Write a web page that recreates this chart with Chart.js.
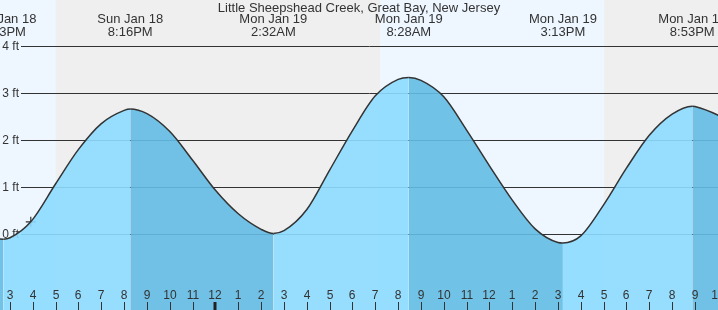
<!DOCTYPE html>
<html>
<head>
<meta charset="utf-8">
<script src="https://cdn.jsdelivr.net/npm/chart.js@4/dist/chart.umd.min.js"></script>
<style>
html,body{margin:0;padding:0;background:#efefef;}
canvas{display:block;}
</style>
</head>
<body>
<canvas id="c" width="718" height="310"></canvas>
<script>
// ---- data (hours since Jan 18 00:00, feet) ----
const chartTitle = 'Little Sheepshead Creek, Great Bay, New Jersey';
const tideHours = [14.0, 14.717, 15, 15.91, 17, 18, 19, 20, 20.267, 21, 22, 23, 24, 25, 26, 26.533, 27, 28, 29, 30, 31, 32, 32.467, 33, 34, 35, 36, 37, 38, 39, 39.217, 40, 41, 42, 43, 44, 44.883, 45, 46, 46.5];
const tideFeet  = [-0.08, -0.11, -0.08, 0.26, 1.07, 1.80, 2.35, 2.63, 2.66, 2.56, 2.18, 1.57, 0.93, 0.43, 0.1, 0.01, 0.07, 0.52, 1.36, 2.2, 2.94, 3.29, 3.33, 3.27, 2.92, 2.21, 1.45, 0.72, 0.11, -0.18, -0.19, -0.04, 0.62, 1.4, 2.1, 2.55, 2.72, 2.715, 2.53, 2.38];
const eventHours = [14.717, 20.267, 26.533, 32.467, 39.217, 44.883];
const eventDays  = ['Sun Jan 18', 'Sun Jan 18', 'Mon Jan 19', 'Mon Jan 19', 'Mon Jan 19', 'Mon Jan 19'];
const eventTimes = ['2:43PM', '8:16PM', '2:32AM', '8:28AM', '3:13PM', '8:53PM'];
const nowHour = [15.91];
const nowFeet = [0.26];
const dayStarts = [10.0, 31.21];
const dayEnds   = [17.0, 41.02];
const hourTicks  = [15,16,17,18,19,20,21,22,23,24,25,26,27,28,29,30,31,32,33,34,35,36,37,38,39,40,41,42,43,44,45,46];
const hourLabels = ['3','4','5','6','7','8','9','10','11','12','1','2','3','4','5','6','7','8','9','10','11','12','1','2','3','4','5','6','7','8','9','10'];
const footTicks  = [0, 1, 2, 3, 4];
const footLabels = ['0 ft', '1 ft', '2 ft', '3 ft', '4 ft'];

const FONT = '"Liberation Sans", Arial, sans-serif';
const RISE = 'rgba(140,218,255,0.9)';
const FALL = 'rgba(98,187,227,0.9)';
const TEXT = '#333';

const deco = {
  id: 'deco',
  beforeDatasetsDraw(chart) {
    const {ctx, chartArea: a, scales: {x, y}} = chart;
    ctx.save();
    ctx.fillStyle = '#efefef';
    ctx.fillRect(a.left, a.top, a.right - a.left, a.bottom - a.top);
    ctx.fillStyle = '#eef7ff';
    for (let i = 0; i < dayStarts.length; i++) {
      const x0 = Math.max(a.left, x.getPixelForValue(dayStarts[i]));
      const x1 = Math.min(a.right, x.getPixelForValue(dayEnds[i]));
      ctx.fillRect(x0, a.top, x1 - x0, a.bottom - a.top);
    }
    ctx.strokeStyle = '#333';
    ctx.lineWidth = 1;
    ctx.font = '12px ' + FONT;
    ctx.textAlign = 'right';
    ctx.textBaseline = 'middle';
    for (let i = 0; i < footTicks.length; i++) {
      const py = Math.round(y.getPixelForValue(footTicks[i])) + 0.5;
      ctx.beginPath();
      ctx.moveTo(21, py);
      ctx.lineTo(a.right, py);
      ctx.stroke();
      ctx.fillStyle = TEXT;
      ctx.fillText(footLabels[i], 19, py);
    }
    ctx.restore();
  },
  afterDatasetsDraw(chart) {
    const {ctx, scales: {x}} = chart;
    ctx.save();
    ctx.fillStyle = TEXT;
    ctx.textAlign = 'center';
    ctx.textBaseline = 'middle';
    ctx.font = '13px ' + FONT;
    ctx.fillText(chartTitle, 359, 8);
    for (let i = 0; i < eventHours.length; i++) {
      const px = x.getPixelForValue(eventHours[i]);
      ctx.fillText(eventDays[i], px, 19);
      ctx.fillText(eventTimes[i], px, 32);
    }
    ctx.font = '12px ' + FONT;
    ctx.strokeStyle = '#333';
    for (let i = 0; i < hourTicks.length; i++) {
      const px = Math.round(x.getPixelForValue(hourTicks[i]));
      ctx.fillText(hourLabels[i], px, 296);
      if (hourTicks[i] % 24 === 0) {
        ctx.fillStyle = '#222';
        ctx.fillRect(px - 1.5, 302, 3, 8);
        ctx.fillStyle = TEXT;
      } else {
        ctx.lineWidth = 1;
        ctx.beginPath();
        ctx.moveTo(px + 0.5, 302);
        ctx.lineTo(px + 0.5, 310);
        ctx.stroke();
      }
    }
    ctx.restore();
  }
};

new Chart(document.getElementById('c'), {
  type: 'line',
  data: {
    datasets: [{
      data: tideHours.map((h, i) => ({x: h, y: tideFeet[i]})),
      borderColor: '#333',
      borderWidth: 1.5,
      pointRadius: 0,
      fill: 'start',
      backgroundColor: RISE,
      cubicInterpolationMode: 'monotone',
      segment: {
        backgroundColor: c => (c.p1.parsed.y < c.p0.parsed.y ? FALL : RISE)
      }
    }, {
      data: nowHour.map((h, i) => ({x: h, y: nowFeet[i]})),
      showLine: false,
      fill: false,
      pointStyle: 'cross',
      pointRadius: 5,
      pointBorderWidth: 1.2,
      pointBorderColor: '#333',
      borderColor: '#333'
    }]
  },
  options: {
    responsive: false,
    animation: false,
    layout: {padding: 0, autoPadding: false},
    plugins: {legend: {display: false}, title: {display: false}, tooltip: {enabled: false}},
    scales: {
      x: {type: 'linear', min: 14.562, max: 46.01, display: false},
      y: {type: 'linear', min: -1.617, max: 4.979, display: false}
    }
  },
  plugins: [deco]
});
</script>
</body>
</html>
